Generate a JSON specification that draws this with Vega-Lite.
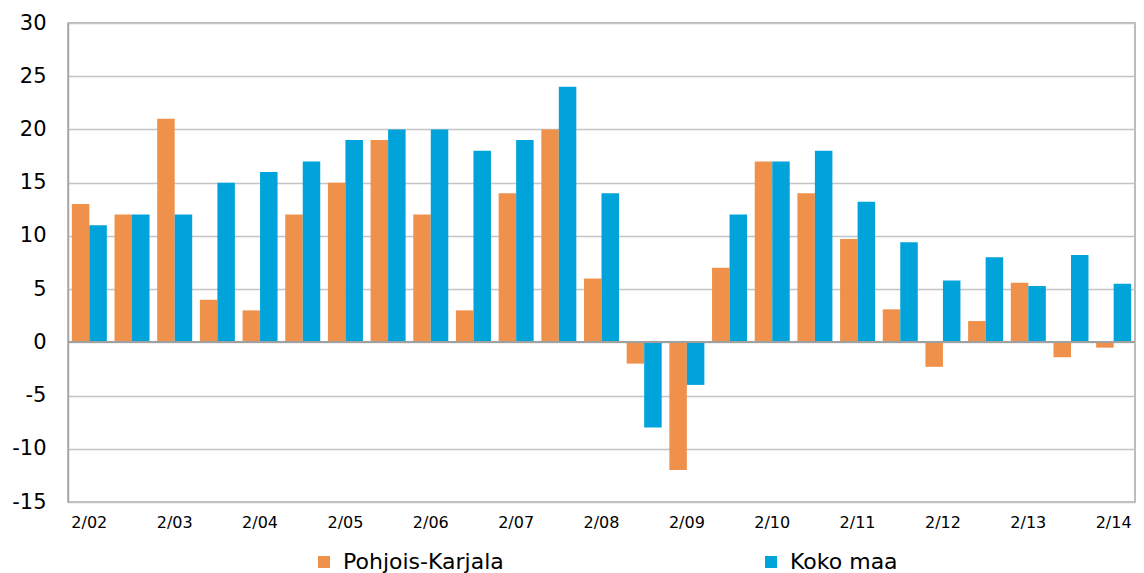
{
  "$schema": "https://vega.github.io/schema/vega-lite/v6.json",
  "width": 1067,
  "height": 479,
  "autosize": {"type": "none"},
  "padding": {"left": 68, "top": 23, "right": 9, "bottom": 71},
  "background": "white",
  "config": {"view": {"stroke": "#A6A6A6", "strokeWidth": 1.5}, "font": "DejaVu Sans"},
  "data": {"values": [
    {"period": "2/02", "series": "Pohjois-Karjala", "value": 13}, {"period": "2/02", "series": "Koko maa", "value": 11},
    {"period": "8/02", "series": "Pohjois-Karjala", "value": 12}, {"period": "8/02", "series": "Koko maa", "value": 12},
    {"period": "2/03", "series": "Pohjois-Karjala", "value": 21}, {"period": "2/03", "series": "Koko maa", "value": 12},
    {"period": "8/03", "series": "Pohjois-Karjala", "value": 4}, {"period": "8/03", "series": "Koko maa", "value": 15},
    {"period": "2/04", "series": "Pohjois-Karjala", "value": 3}, {"period": "2/04", "series": "Koko maa", "value": 16},
    {"period": "8/04", "series": "Pohjois-Karjala", "value": 12}, {"period": "8/04", "series": "Koko maa", "value": 17},
    {"period": "2/05", "series": "Pohjois-Karjala", "value": 15}, {"period": "2/05", "series": "Koko maa", "value": 19},
    {"period": "8/05", "series": "Pohjois-Karjala", "value": 19}, {"period": "8/05", "series": "Koko maa", "value": 20},
    {"period": "2/06", "series": "Pohjois-Karjala", "value": 12}, {"period": "2/06", "series": "Koko maa", "value": 20},
    {"period": "8/06", "series": "Pohjois-Karjala", "value": 3}, {"period": "8/06", "series": "Koko maa", "value": 18},
    {"period": "2/07", "series": "Pohjois-Karjala", "value": 14}, {"period": "2/07", "series": "Koko maa", "value": 19},
    {"period": "8/07", "series": "Pohjois-Karjala", "value": 20}, {"period": "8/07", "series": "Koko maa", "value": 24},
    {"period": "2/08", "series": "Pohjois-Karjala", "value": 6}, {"period": "2/08", "series": "Koko maa", "value": 14},
    {"period": "8/08", "series": "Pohjois-Karjala", "value": -2}, {"period": "8/08", "series": "Koko maa", "value": -8},
    {"period": "2/09", "series": "Pohjois-Karjala", "value": -12}, {"period": "2/09", "series": "Koko maa", "value": -4},
    {"period": "8/09", "series": "Pohjois-Karjala", "value": 7}, {"period": "8/09", "series": "Koko maa", "value": 12},
    {"period": "2/10", "series": "Pohjois-Karjala", "value": 17}, {"period": "2/10", "series": "Koko maa", "value": 17},
    {"period": "8/10", "series": "Pohjois-Karjala", "value": 14}, {"period": "8/10", "series": "Koko maa", "value": 18},
    {"period": "2/11", "series": "Pohjois-Karjala", "value": 9.7}, {"period": "2/11", "series": "Koko maa", "value": 13.2},
    {"period": "8/11", "series": "Pohjois-Karjala", "value": 3.1}, {"period": "8/11", "series": "Koko maa", "value": 9.4},
    {"period": "2/12", "series": "Pohjois-Karjala", "value": -2.3}, {"period": "2/12", "series": "Koko maa", "value": 5.8},
    {"period": "8/12", "series": "Pohjois-Karjala", "value": 2}, {"period": "8/12", "series": "Koko maa", "value": 8},
    {"period": "2/13", "series": "Pohjois-Karjala", "value": 5.6}, {"period": "2/13", "series": "Koko maa", "value": 5.3},
    {"period": "8/13", "series": "Pohjois-Karjala", "value": -1.4}, {"period": "8/13", "series": "Koko maa", "value": 8.2},
    {"period": "2/14", "series": "Pohjois-Karjala", "value": -0.5}, {"period": "2/14", "series": "Koko maa", "value": 5.5}
  ]},
  "layer": [
    {
      "mark": {"type": "bar"},
      "encoding": {
        "x": {
          "field": "period", "type": "nominal", "sort": null,
          "scale": {"paddingInner": 0.18, "paddingOuter": 0.09},
          "axis": {
            "title": null, "labelExpr": "substring(datum.value,0,2) == '2/' ? datum.value : ''",
            "labelAngle": 0, "ticks": false, "domain": false, "grid": false,
            "labelFontSize": 16, "labelPadding": 12, "labelColor": "#000000", "labelOverlap": false
          }
        },
        "xOffset": {"field": "series", "type": "nominal", "sort": ["Pohjois-Karjala", "Koko maa"], "scale": {"paddingInner": 0, "paddingOuter": 0}},
        "y": {
          "field": "value", "type": "quantitative",
          "scale": {"domain": [-15, 30], "nice": false, "zero": false},
          "axis": {
            "title": null, "values": [-15, -10, -5, 0, 5, 10, 15, 20, 25, 30],
            "labelExpr": "toString(datum.value)",
            "ticks": false, "domain": true, "domainColor": "#A6A6A6", "domainWidth": 1.5,
            "grid": true, "gridColor": "#C4C4C4", "gridWidth": 1.5,
            "labelFontSize": 21, "labelPadding": 22, "labelColor": "#000000"
          }
        },
        "color": {
          "field": "series", "type": "nominal",
          "scale": {"domain": ["Pohjois-Karjala", "Koko maa"], "range": ["#F0914B", "#00A3DA"]},
          "legend": {
            "orient": "none", "legendX": 245, "legendY": 528, "direction": "horizontal",
            "title": null, "symbolType": "square", "symbolSize": 144, "symbolStrokeWidth": 0,
            "labelFontSize": 22, "labelOffset": 8, "labelLimit": 400, "columnPadding": 256,
            "labelColor": "#000000"
          }
        }
      }
    },
    {
      "mark": {"type": "rule", "color": "#A0A0A0", "strokeWidth": 1.5},
      "encoding": {"y": {"datum": 0}}
    }
  ]
}
